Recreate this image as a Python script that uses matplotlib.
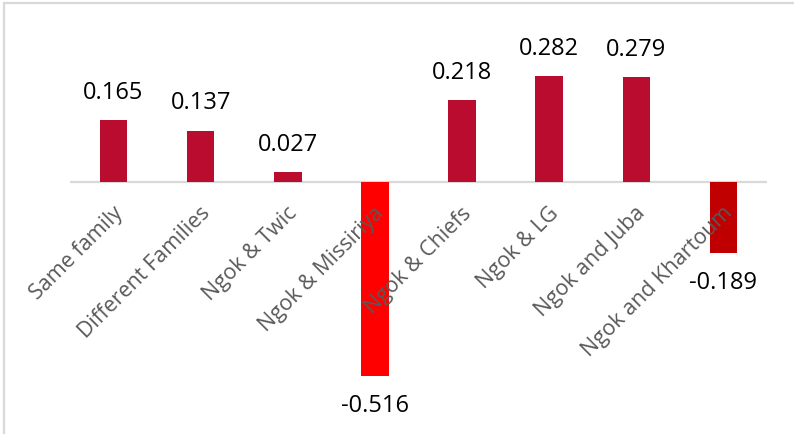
import matplotlib
matplotlib.use("Agg")
import matplotlib.pyplot as plt
from matplotlib.patches import Rectangle

# 关系得分（按群体对）
categories = [
    "Same family", "Different Families", "Ngok & Twic", "Ngok & Missiriya",
    "Ngok & Chiefs", "Ngok & LG", "Ngok and Juba", "Ngok and Khartoum",
]
values = [0.165, 0.137, 0.027, -0.516, 0.218, 0.282, 0.279, -0.189]
bar_colors = ["#BA0C2F", "#BA0C2F", "#BA0C2F", "#FF0000",
              "#BA0C2F", "#BA0C2F", "#BA0C2F", "#C00000"]

plt.rcParams["font.family"] = ["Open Sans", "DejaVu Sans"]

fig = plt.figure(figsize=(7.94, 4.34), dpi=100)
ax = fig.add_axes([70 / 794, 14 / 434, 697 / 794, 400 / 434])

x = range(len(categories))
ax.bar(x, values, width=0.315, color=bar_colors, zorder=2)

ax.set_xlim(-0.5, len(categories) - 0.5)
ax.set_ylim(-0.633, 0.431)

# 零线
ax.axhline(0, color="#D9D9D9", linewidth=1.6, zorder=1)

for i, v in enumerate(values):
    if v >= 0:
        ax.annotate(f"{v:.3f}", (i, v), xytext=(0, 11), textcoords="offset points",
                    ha="center", va="bottom", fontsize=17, color="#000000")
    else:
        ax.annotate(f"{v:.3f}", (i, v), xytext=(0, -13), textcoords="offset points",
                    ha="center", va="top", fontsize=17, color="#000000")

# 类别标签沿零线斜放
for i, name in enumerate(categories):
    ax.annotate(name, (i, 0), xytext=(-1, -15), textcoords="offset points",
                ha="right", va="top", rotation=45, rotation_mode="anchor",
                fontsize=15.5, color="#595959", zorder=3)

ax.set_xticks([])
ax.set_yticks([])
for s in ax.spines.values():
    s.set_visible(False)

# 外框
fig.patches.append(Rectangle((3.5 / 794, -0.1), 1.2, 1.1 - 3.5 / 434,
                             transform=fig.transFigure, fill=False,
                             edgecolor="#D9D9D9", linewidth=1.6))

fig.savefig("out.png", dpi=100, facecolor="white")
